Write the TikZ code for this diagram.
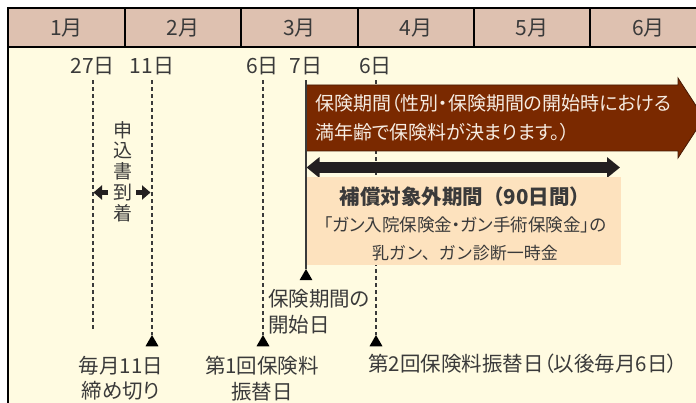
\documentclass[tikz,border=0pt]{standalone}
\usepackage{fontspec}
\usetikzlibrary{arrows.meta,shapes.geometric}
\newfontfamily\cjk[CharacterWidth=AlternateProportional]{Noto Sans CJK JP}
\newfontfamily\cjkn{Noto Sans CJK JP}
\definecolor{headfill}{RGB}{222,193,176}
\definecolor{bodyfill}{RGB}{255,251,225}
\definecolor{brownfill}{RGB}{122,41,0}
\definecolor{brownedge}{RGB}{70,25,5}
\definecolor{peach}{RGB}{253,226,190}
\definecolor{txtc}{RGB}{58,58,58}
\definecolor{btxt}{RGB}{246,236,226}
\definecolor{arrc}{RGB}{35,31,32}
\tikzset{
  mon/.style={font=\cjk\fontsize{21}{24}\selectfont, text=txtc, inner sep=0pt},
  datelbl/.style={font=\cjk\fontsize{21}{24}\selectfont, text=txtc, inner sep=0pt},
  lbl/.style={font=\cjk\fontsize{20.5}{25.5}\selectfont, text=txtc, inner sep=0pt},
  tri/.style={regular polygon, regular polygon sides=3, minimum size=15pt, inner sep=0pt, fill=black, draw=none},
  dashline/.style={draw=txtc, line width=1.1pt, dash pattern=on 4pt off 3pt},
  frameline/.style={draw=black, line width=1.2pt},
  obox/.style={fill=peach, draw=none, inner sep=0pt, minimum width=314pt, minimum height=88pt},
  oboxtxt/.style={align=center, text=txtc, inner sep=0pt, font=\cjk\fontsize{17.5}{27.5}\selectfont},
  smallarr/.style={arrc, line width=5.5pt, -{Triangle[length=8.5pt,width=14pt]}},
  bigarr/.style={arrc, line width=10.5pt, {Triangle[length=13pt,width=20pt]}-{Triangle[length=13pt,width=20pt]}}
}
\begin{document}
\begin{tikzpicture}[x=1pt,y=-1pt]
\useasboundingbox (0,0) rectangle (696,403);
\clip (0,0) rectangle (696,403);
% frame
\fill[bodyfill] (8,8) rectangle (720,420);
\fill[headfill] (8,8) rectangle (720,47);
\draw[frameline] (720,8) -- (8,8) -- (8,420);
\draw[frameline] (8,47) -- (720,47);
\foreach \x in {125,241,358,474,590} \draw[frameline] (\x,8) -- (\x,47);
% months
\node[mon] (m1) at (66.5,28) {1月};
\node[mon] (m2) at (183,28) {2月};
\node[mon] (m3) at (299.5,28) {3月};
\node[mon] (m4) at (416,28) {4月};
\node[mon] (m5) at (532,28) {5月};
\node[mon] (m6) at (648.5,28) {6月};
% dates
\node[datelbl] (d27) at (92.5,66) {27日};
\node[datelbl] (d11) at (152,66) {11日};
\node[datelbl] (d6) at (262.5,66) {6日};
\node[datelbl] (d7) at (306,66) {7日};
\node[datelbl] (d6b) at (375.5,66) {6日};
% triangles and ends
\coordinate (e27) at (93,332);
\node[tri] (t11) at (152,342.5) {};
\node[tri] (t6) at (263,342.5) {};
\node[tri] (t6b) at (376,342.5) {};
\node[tri] (t7) at (306,276.5) {};
% dashed lines
\draw[dashline, shorten <=5pt] (d27.south -| e27) -- (e27);
\draw[dashline, shorten <=5pt] (d11.south -| t11) -- (t11.north);
\draw[dashline, shorten <=5pt] (d6.south -| t6) -- (t6.north);
\draw[dashline, shorten <=5pt] (d6b.south -| t6b) -- (t6b.north);
% brown arrow
\path[fill=brownfill, draw=brownedge, line width=0.8pt] (306,85) -- (678,85) -- (678,78) -- (704,118) -- (678,158) -- (678,151) -- (306,151) -- cycle;
\node[font=\cjk\fontsize{19}{29}\selectfont, text=btxt, align=left, anchor=west, inner sep=0pt] (period) at (315,117.5) {保険期間（性別・保険期間の開始時における\\満年齢で保険料が決まります。）};
% black double arrow
\coordinate (al) at (306.5,167.5);
\coordinate (ar) at (620,167.5);
\draw[bigarr] (al) -- (ar);
% peach box
\node[obox] (excl) at (463.5,221) {};
\node[oboxtxt] (excltxt) at (465,223.5) {{\cjkn\bfseries\fontsize{20.5}{27.5}\selectfont 補償対象外期間（90日間）}\\{「ガン入院保険金・ガン手術保険金」の}\\{\cjkn\fontsize{17}{27.5}\selectfont 乳ガン、ガン診断一時金}};
% solid line from 7日
\draw[txtc, line width=1.2pt, shorten <=5pt] (d7.south) -- (t7.north);
% application text and arrows
\node[font=\cjk\fontsize{19}{20.75}\selectfont, text=txtc, align=center, inner sep=0pt] (app) at (123,171.5) {申\\込\\書\\到\\着};
\coordinate (la1) at (108,192.5);
\coordinate (la2) at (93.5,192.5);
\coordinate (ra1) at (136,192.5);
\coordinate (ra2) at (150.5,192.5);
\draw[smallarr] (la1) -- (la2);
\draw[smallarr] (ra1) -- (ra2);
% bottom labels
\node[lbl, align=center] (l11) at (121,378.5) {毎月11日\\締め切り};
\node[lbl, align=center] (l1st) at (262,378.5) {第1回保険料\\振替日};
\node[lbl, align=left, anchor=west] (lstart) at (268,312) {保険期間の\\開始日};
\node[lbl, anchor=west] (l2nd) at (368,364) {第2回保険料振替日（以後毎月6日）};
\end{tikzpicture}
\end{document}
